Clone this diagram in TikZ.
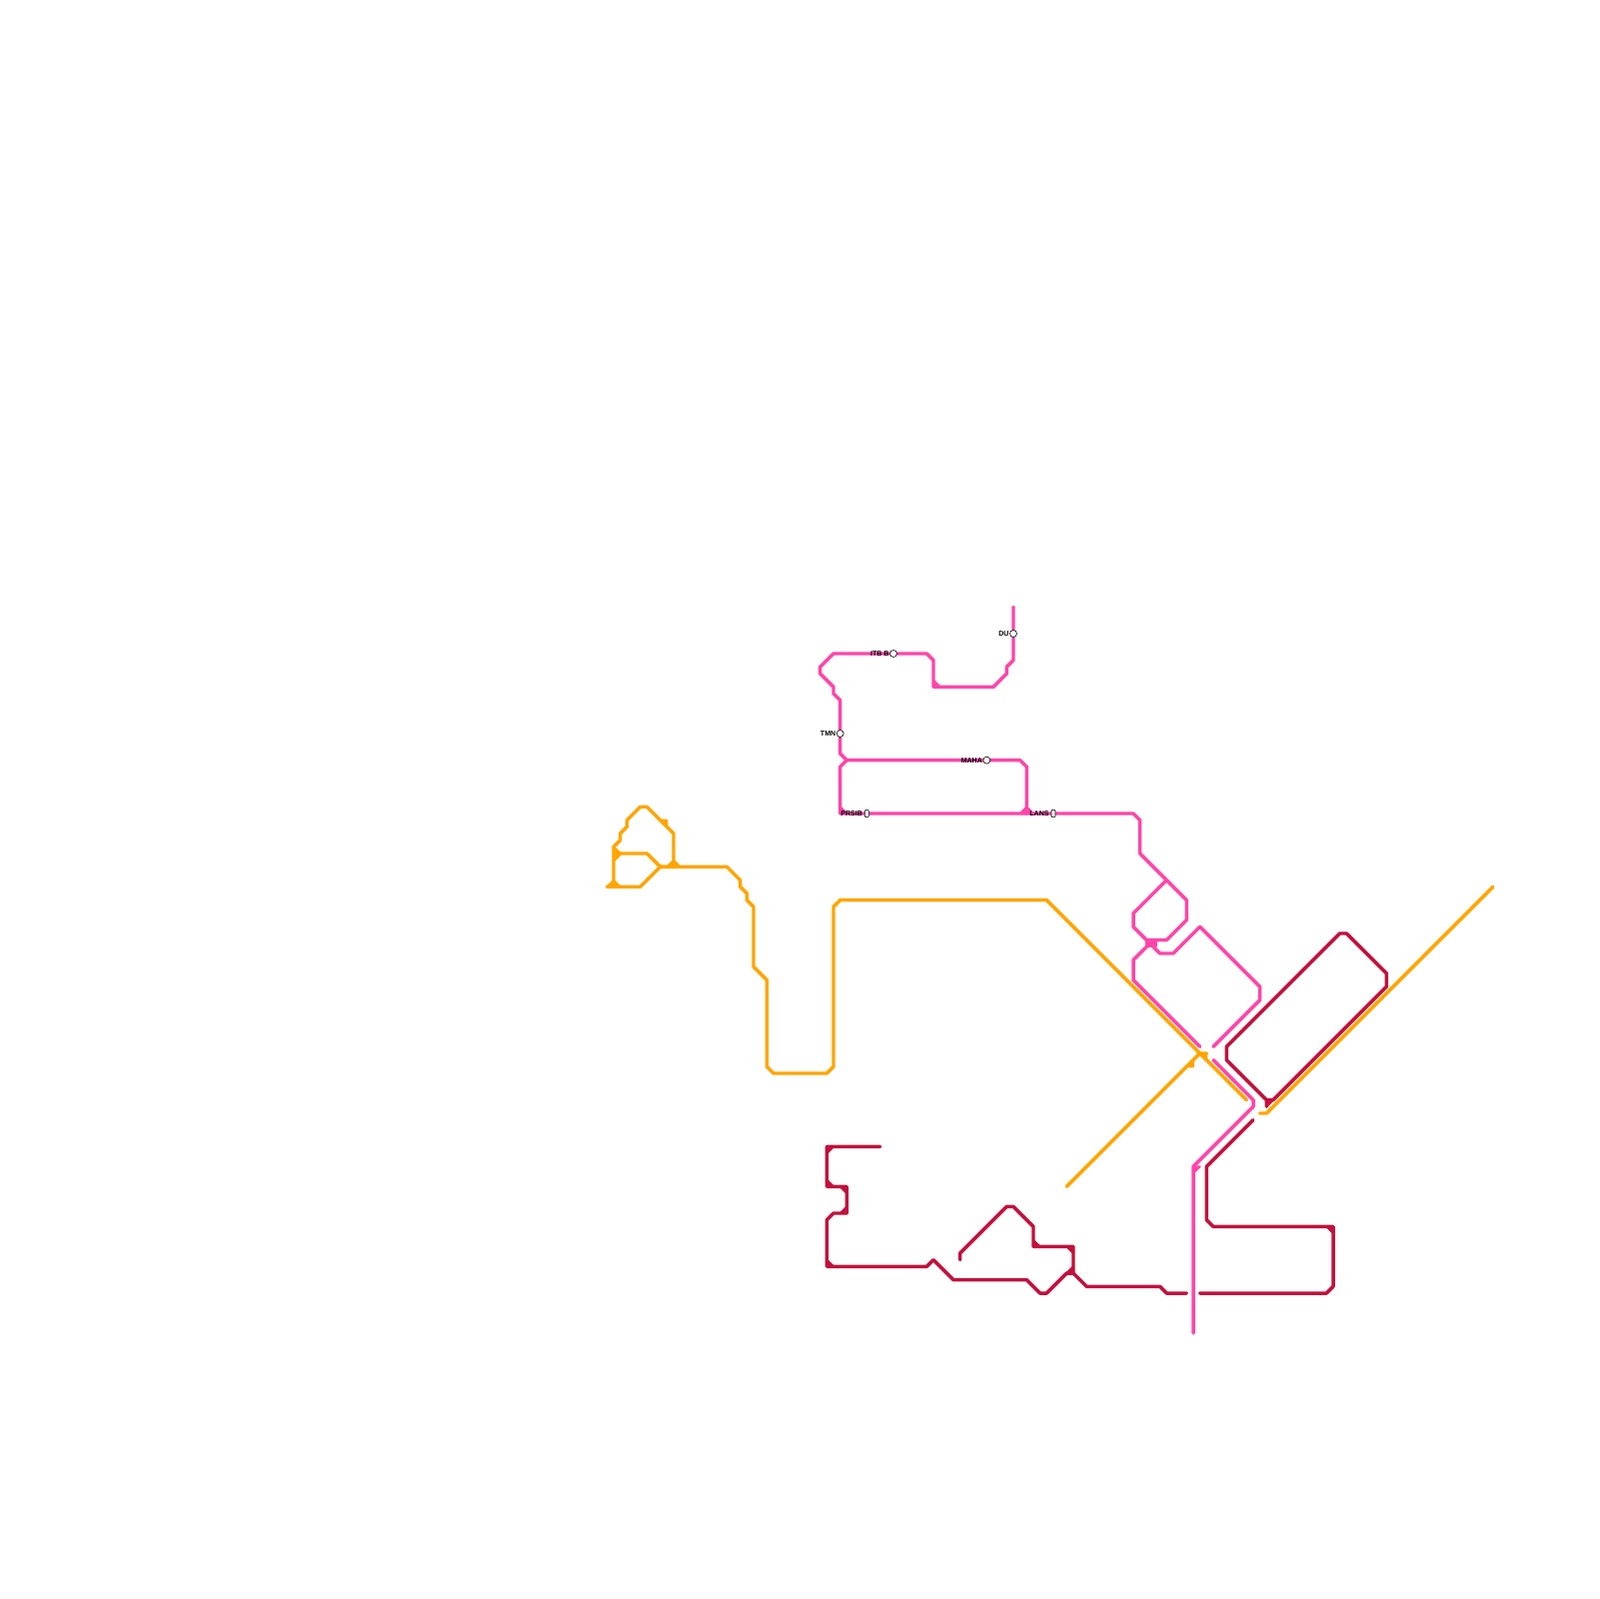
\documentclass[tikz,border=0pt]{standalone}
\usepackage{fontspec}
\setmainfont{Liberation Sans}
\definecolor{pinkline}{HTML}{FF45A9}
\definecolor{orangeline}{HTML}{FFA500}
\definecolor{crimsonline}{HTML}{C2103C}
\tikzset{pk/.style={pinkline,line width=.52mm,line cap=round,line join=round}}
\tikzset{or/.style={orangeline,line width=.52mm,line cap=round,line join=round}}
\tikzset{cr/.style={crimsonline,line width=.52mm,line cap=round,line join=round}}
\tikzset{pf/.style={pinkline,line width=.3mm,line join=round}}
\tikzset{of/.style={orangeline,line width=.3mm,line join=round}}
\tikzset{cf/.style={crimsonline,line width=.3mm,line join=round}}
\tikzset{stn/.style={circle,draw=black,fill=white,line width=.09mm,minimum size=1.05mm,inner sep=0pt}}
\tikzset{flat/.style={rounded corners=.15mm,rectangle,draw=black,fill=white,line width=.09mm,minimum width=.6mm,minimum height=1.1mm,inner sep=0pt}}
\tikzset{l/.style={font=\fontsize{3}{3}\selectfont\bfseries,anchor=east,inner sep=0pt}}

\begin{document}
\begin{tikzpicture}[x=1mm,y=-1mm]
        \useasboundingbox (0,0) rectangle (240,240);
        \begin{scope}[xshift=.1mm,yshift=-.1mm]
        % orange
        \draw[or](96,121)--(97,121)--(101,125)--(101,130)--(99,130)--(96,133)--(91,133);
        \draw[or](96,121)--(94,123)--(94,124)--(93,125)--(93,126)--(92,127)--(92,133);
        \draw[or](92,129)--(93,128)--(97,128)--(99,130)--(109,130)--(111,132)--(111,133)--(112,134)--(112,135)--(113,136)--(113,145)--(115,147)--(115,160)--(116,161)--(124,161)--(125,160)--(125,136)--(126,135)--(157,135)--(187,165);
        \draw[or](160,178)--(180,158)--(181,158);
        \draw[or](189,167)--(190,167)--(224,133);
        \filldraw[of](92,127)--(93,128)--(92,128)--cycle;
        \filldraw[of](92,129)--(93,128)--(92,128)--cycle;
        \filldraw[of](91,133)--(92,132)--(93,133)--cycle;
        \filldraw[of](100,130)--(101,129)--(102,130)--cycle;
        \filldraw[of](99,123)--(100,123)--(100,124)--cycle;
        \filldraw[of](179,159)--(179,160)--(178,160)--cycle;
        \filldraw[of](180,158)--(181,158)--(181,159)--cycle;
        % crimson
        \draw[cr](132,172)--(124,172)--(124,178)--(127,178)--(127,182)--(125,182)--(124,183)--(124,190)--(139,190)--(140,189)--(143,192)--(154,192)--(156,194)--(157,194)--(160,191)--(161,191)--(163,193)--(174,193)--(175,194)--(178,194);
        \draw[cr](144,189)--(144,188)--(151,181)--(152,181)--(155,184)--(155,187)--(161,187)--(161,191);
        \draw[cr](180,194)--(199,194)--(200,193)--(200,184)--(182,184)--(181,183)--(181,175)--(188,168);
        \draw[cr](190,166)--(190,165)--(184,159)--(184,157)--(201,140)--(202,140)--(208,146)--(208,148)--(191,165)--(190,165);
        \filldraw[cf](124,172)--(125,172)--(124,173)--cycle;
        \filldraw[cf](124,177)--(125,178)--(124,178)--cycle;
        \filldraw[cf](126,178)--(127,178)--(127,179)--cycle;
        \filldraw[cf](127,181)--(127,182)--(126,182)--cycle;
        \filldraw[cf](124,189)--(125,190)--(124,190)--cycle;
        \filldraw[cf](155,186)--(156,187)--(155,187)--cycle;
        \filldraw[cf](160,187)--(161,187)--(161,188)--cycle;
        \filldraw[cf](161,190)--(161,191)--(160,191)--cycle;
        \filldraw[cf](199,184)--(200,184)--(200,185)--cycle;
        \filldraw[cf](190,165)--(191,165)--(190,166)--cycle;
        % pink
        \draw[pk](152,91)--(152,99)--(151,100)--(151,101)--(149,103)--(140,103)--(140,99)--(139,98)--(125,98)--(123,100)--(123,101)--(125,103)--(125,104)--(126,105)--(126,113)--(127,114)--(153,114)--(154,115)--(154,122);
        \draw[pk](127,114)--(126,115)--(126,122)--(170,122)--(171,123)--(171,128)--(178,135)--(178,138)--(175,141)--(172,141)--(170,139)--(170,137)--(175,132);
        \draw[pk](180,157)--(170,147)--(170,144)--(173,141);
        \draw[pk](173,142)--(174,143)--(176,143)--(180,139)--(189,148)--(189,150)--(182,157);
        \draw[pk](182,159)--(188,165)--(188,166)--(179,175)--(179,200);
        \filldraw[pf](140,102)--(141,103)--(140,103)--cycle;
        \filldraw[pf](126,121)--(127,122)--(126,122)--cycle;
        \filldraw[pf](153,122)--(154,121)--(155,122)--cycle;
        \filldraw[pf](179,175)--(180,175)--(179,176)--cycle;
        \filldraw[pf](172,141)--(173.5,141)--(173.5,142)--(172,142)--cycle;
        % stations
        \node (du) [stn] at (152,95) {};
        \node (itbb) [stn] at (134,98) {};
        \node (tmn) [stn] at (126,110) {};
        \node (maha) [stn] at (148,114) {};
        \node (prsib) [flat] at (130,122) {};
        \node (lans) [flat] at (158,122) {};
        \node (dulabel) [l] at (151.4,95) {DU};
        \node (itbblabel) [l] at (133.4,98) {ITB B};
        \node (tmnlabel) [l] at (125.4,110) {TMN};
        \node (mahalabel) [l] at (147.4,114) {MAHA};
        \node (prsiblabel) [l] at (129.4,122) {PRSIB};
        \node (lanslabel) [l] at (157.4,122) {LANS};
        \end{scope}
\end{tikzpicture}
\end{document}
